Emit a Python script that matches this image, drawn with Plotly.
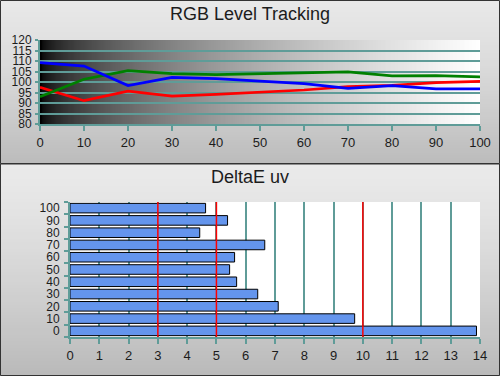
import base64
import struct
import zlib

import plotly.graph_objects as go

# ---------------- data ----------------
levels = [0, 10, 20, 30, 40, 50, 60, 70, 80, 90, 100]
red_vals = [97.5, 91.1, 95.6, 93.3, 94.1, 95.1, 96.2, 97.8, 98.4, 99.7, 100.3]
green_vals = [93.0, 101.3, 105.4, 104.0, 103.5, 104.0, 104.3, 104.8, 102.9, 103.0, 102.4]
blue_vals = [109.2, 107.6, 98.3, 102.2, 101.6, 100.5, 99.2, 97.0, 98.3, 96.7, 96.7]

delta_labels = ["0", "10", "20", "30", "40", "50", "60", "70", "80", "90", "100"]
delta_vals = [13.88, 9.72, 7.11, 6.41, 5.69, 5.45, 5.62, 6.65, 4.43, 5.38, 4.63]
thresholds = [3, 5, 10]

top_title = "RGB Level Tracking"
bottom_title = "DeltaE uv"

# ---------------- helpers ----------------
W, H = 500, 376


def png_uri(w, h, fn):
    raw = b""
    for y in range(h):
        raw += b"\x00"
        for x in range(w):
            raw += bytes(fn(x, y))
    def chunk(t, d):
        c = struct.pack(">I", len(d)) + t + d
        return c + struct.pack(">I", zlib.crc32(t + d) & 0xFFFFFFFF)
    data = (b"\x89PNG\r\n\x1a\n"
            + chunk(b"IHDR", struct.pack(">IIBBBBB", w, h, 8, 2, 0, 0, 0))
            + chunk(b"IDAT", zlib.compress(raw, 9))
            + chunk(b"IEND", b""))
    return "data:image/png;base64," + base64.b64encode(data).decode()


def vgrad(top, bottom, n=64):
    def f(x, y):
        t = y / (n - 1)
        v = int(round(top + (bottom - top) * t ** 1.3))
        return (v, v, v)
    return png_uri(1, n, f)


def hgrad(n=256):
    def f(x, y):
        t = x / (n - 1)
        v = int(round(255 * t ** 0.55))
        return (v, v, v)
    return png_uri(n, 1, f)


def px(x):
    return x / W


def py(y):
    return 1 - y / H


TEAL = "#5f9c98"
FONT = "Liberation Sans, Arial, sans-serif"
TXT = "#1c1c1c"

fig = go.Figure()

fig.add_trace(go.Scatter(x=levels, y=red_vals, mode="lines",
                         line=dict(color="#ff0000", width=2.7),
                         xaxis="x", yaxis="y", showlegend=False))
fig.add_trace(go.Scatter(x=levels, y=green_vals, mode="lines",
                         line=dict(color="#008000", width=2.7),
                         xaxis="x", yaxis="y", showlegend=False))
fig.add_trace(go.Scatter(x=levels, y=blue_vals, mode="lines",
                         line=dict(color="#0000ff", width=2.7),
                         xaxis="x", yaxis="y", showlegend=False))

fig.add_trace(go.Bar(x=delta_vals, y=delta_labels, orientation="h",
                     marker=dict(color="#6495ed", line=dict(color="#000000", width=1)),
                     xaxis="x2", yaxis="y2", showlegend=False))

shapes = []
shapes.append(dict(type="rect", xref="x2 domain", yref="y2 domain",
                   x0=0, x1=1, y0=0, y1=1, fillcolor="#ffffff",
                   line=dict(width=0), layer="below"))
for t in thresholds:
    shapes.append(dict(type="line", xref="x2", yref="y2 domain",
                       x0=t, x1=t, y0=0, y1=1,
                       line=dict(color="#ff0000", width=1.5), layer="above"))
shapes.append(dict(type="rect", xref="paper", yref="paper",
                   x0=px(0.5), x1=px(499.5), y0=py(163.5), y1=py(0.5),
                   line=dict(color="#333333", width=1)))
shapes.append(dict(type="rect", xref="paper", yref="paper",
                   x0=px(0.5), x1=px(499.5), y0=py(375.5), y1=py(164),
                   line=dict(color="#333333", width=1)))

images = [
    dict(source=vgrad(232, 188), xref="paper", yref="paper",
         x=0, y=1, sizex=1, sizey=164 / H, sizing="stretch", layer="below"),
    dict(source=vgrad(234, 186), xref="paper", yref="paper",
         x=0, y=py(164), sizex=1, sizey=(H - 164) / H, sizing="stretch", layer="below"),
    dict(source=hgrad(), xref="x", yref="y",
         x=0, y=120, sizex=100, sizey=40, sizing="stretch", layer="below"),
]

annotations = [
    dict(text=top_title, xref="paper", yref="paper", x=0.5, y=py(14),
         showarrow=False, font=dict(size=18, color=TXT, family=FONT),
         xanchor="center", yanchor="middle"),
    dict(text=bottom_title, xref="paper", yref="paper", x=0.5, y=py(177),
         showarrow=False, font=dict(size=18, color=TXT, family=FONT),
         xanchor="center", yanchor="middle"),
]

tickfont = dict(size=13, color=TXT, family=FONT)
ytickfont = dict(size=12, color=TXT, family=FONT)

fig.update_layout(
    width=W, height=H,
    margin=dict(l=0, r=0, t=0, b=0),
    paper_bgcolor="#d8d8d8",
    plot_bgcolor="rgba(0,0,0,0)",
    font=dict(family=FONT, color=TXT),
    shapes=shapes, images=images, annotations=annotations,
    bargap=0.22,
    xaxis=dict(domain=[px(40), px(480)], range=[0, 100], anchor="y",
               tickvals=levels, ticks="outside", ticklen=5, tickwidth=2,
               tickcolor=TEAL, showline=True, linecolor=TEAL, linewidth=2,
               showgrid=False, zeroline=False, tickfont=tickfont,
               automargin=False),
    yaxis=dict(domain=[py(124), py(40)], range=[80, 120], anchor="x",
               tickmode="array", tickvals=list(range(80, 121, 5)),
               ticks="outside", ticklen=3, tickwidth=2,
               tickcolor=TEAL, showline=True, linecolor=TEAL, linewidth=2,
               showgrid=True, gridcolor=TEAL, gridwidth=1.5, zeroline=False,
               tickfont=ytickfont, ticklabelstandoff=1, automargin=False),
    xaxis2=dict(domain=[px(70), px(480)], range=[0, 14], anchor="y2",
                tickmode="array", tickvals=list(range(0, 15)),
                ticks="outside", ticklen=5, tickwidth=2,
                tickcolor=TEAL, showline=True, linecolor=TEAL, linewidth=2,
                showgrid=True, gridcolor=TEAL, gridwidth=1.5, zeroline=False,
                tickfont=tickfont, automargin=False),
    yaxis2=dict(domain=[py(337), py(202)], anchor="x2", type="category",
                categoryorder="array", categoryarray=delta_labels,
                tickmode="array", tickvals=delta_labels,
                ticks="outside", tickson="boundaries", ticklen=4, tickwidth=2,
                tickcolor=TEAL, showline=True, linecolor=TEAL, linewidth=2,
                showgrid=False, zeroline=False, tickfont=ytickfont,
                ticklabelstandoff=6, automargin=False),
)

fig.write_html("out.html",
               config={"displayModeBar": False},
               post_script="document.body.style.margin='0';"
                           "document.body.style.overflow='hidden';")
